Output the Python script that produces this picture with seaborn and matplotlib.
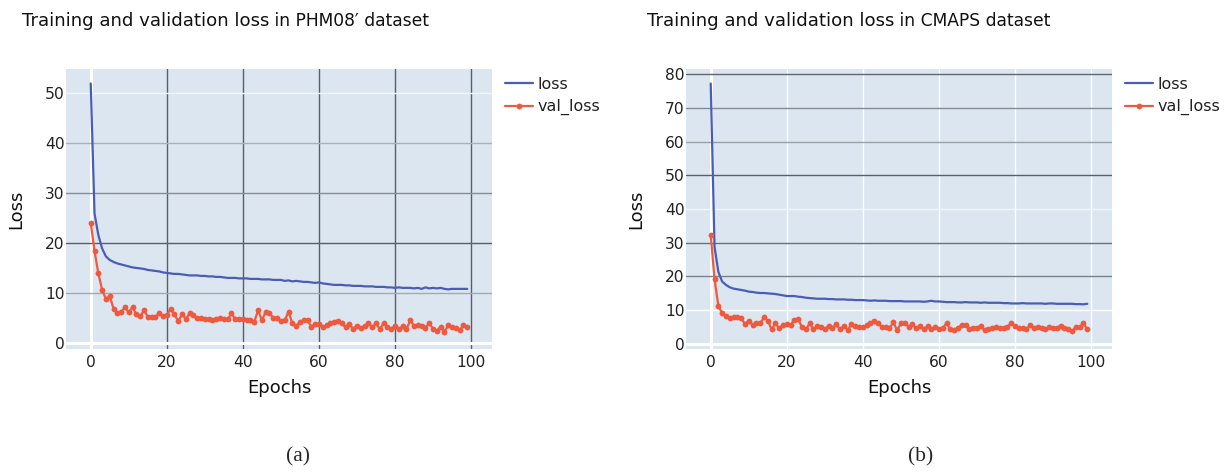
import numpy as np
import pandas as pd
import matplotlib
matplotlib.use("Agg")
import matplotlib.pyplot as plt
import seaborn as sns

epochs = list(range(100))

phm_loss = [52.0, 25.9, 21.6, 18.9, 17.3, 16.6, 16.2, 15.9, 15.7, 15.5,
            15.3, 15.1, 15.0, 14.9, 14.8, 14.6, 14.5, 14.4, 14.3, 14.1,
            14.0, 13.9, 13.8, 13.8, 13.7, 13.6, 13.5, 13.5, 13.5, 13.4,
            13.4, 13.3, 13.3, 13.2, 13.2, 13.1, 13.0, 13.0, 13.0, 12.9,
            12.9, 12.9, 12.8, 12.8, 12.8, 12.7, 12.7, 12.7, 12.6, 12.6,
            12.6, 12.4, 12.5, 12.3, 12.4, 12.3, 12.2, 12.2, 12.1, 12.0,
            12.1, 11.9, 11.8, 11.7, 11.6, 11.6, 11.6, 11.5, 11.5, 11.4,
            11.4, 11.4, 11.3, 11.3, 11.3, 11.2, 11.2, 11.2, 11.1, 11.1,
            11.0, 11.1, 11.0, 11.0, 11.0, 10.9, 11.0, 10.8, 11.1, 10.9,
            11.0, 10.9, 11.0, 10.8, 10.7, 10.8, 10.8, 10.8, 10.8, 10.8]

phm_val = [24.1, 18.4, 13.9, 10.6, 8.75, 9.4, 6.8, 5.9, 6.2, 7.1,
           6.1, 7.1, 5.7, 5.3, 6.5, 5.2, 5.2, 5.2, 5.9, 5.3,
           5.5, 6.8, 5.7, 4.3, 5.7, 4.8, 5.9, 5.5, 4.9, 4.9,
           4.8, 4.7, 4.5, 4.8, 4.9, 4.7, 4.7, 5.9, 4.7, 4.7,
           4.7, 4.5, 4.5, 4.2, 6.5, 4.5, 6.2, 6.0, 4.9, 4.9,
           4.4, 4.5, 6.2, 3.9, 3.3, 4.2, 4.5, 4.5, 3.2, 3.7,
           3.7, 3.1, 3.5, 4.0, 4.1, 4.3, 3.9, 3.1, 3.7, 2.8,
           3.4, 2.9, 3.4, 3.9, 3.1, 3.9, 2.7, 3.9, 3.2, 2.8,
           3.3, 2.7, 3.3, 2.7, 4.5, 3.4, 3.5, 3.3, 3.0, 3.9,
           2.8, 2.4, 3.2, 2.2, 3.5, 3.1, 3.0, 2.5, 3.5, 3.2]

cmaps_loss = [77.2, 28.8, 21.4, 18.5, 17.5, 16.8, 16.4, 16.2, 16.0, 15.8,
              15.5, 15.4, 15.2, 15.1, 15.1, 15.0, 14.9, 14.8, 14.6, 14.4,
              14.2, 14.2, 14.2, 14.0, 13.9, 13.7, 13.6, 13.5, 13.4, 13.4,
              13.4, 13.3, 13.3, 13.2, 13.2, 13.2, 13.1, 13.1, 13.0, 13.0,
              13.0, 12.9, 12.8, 12.9, 12.8, 12.8, 12.8, 12.7, 12.7, 12.7,
              12.7, 12.6, 12.6, 12.6, 12.6, 12.6, 12.5, 12.6, 12.8, 12.6,
              12.6, 12.5, 12.4, 12.4, 12.4, 12.3, 12.3, 12.4, 12.3, 12.3,
              12.3, 12.2, 12.3, 12.2, 12.2, 12.2, 12.2, 12.1, 12.1, 12.0,
              12.0, 12.0, 12.1, 12.0, 12.0, 12.0, 12.0, 12.0, 11.9, 12.0,
              12.0, 11.9, 11.9, 11.9, 11.9, 11.9, 11.8, 11.8, 11.75, 11.9]

cmaps_val = [32.3, 19.2, 11.3, 9.1, 8.3, 7.6, 8.1, 7.9, 7.6, 5.9,
             6.9, 5.6, 6.1, 6.1, 7.9, 6.9, 4.3, 6.1, 4.6, 5.6,
             5.9, 5.6, 7.1, 7.4, 4.9, 4.3, 6.1, 4.3, 5.4, 4.9,
             4.3, 5.4, 4.8, 5.8, 4.3, 5.4, 4.1, 5.9, 5.3, 5.1,
             4.9, 5.6, 6.1, 6.9, 6.3, 4.9, 4.9, 4.6, 6.4, 4.1,
             6.1, 6.3, 5.1, 5.8, 4.6, 5.4, 4.3, 5.3, 4.3, 5.1,
             4.3, 4.8, 6.1, 4.3, 4.1, 4.8, 5.6, 5.6, 4.3, 4.8,
             4.8, 5.4, 4.0, 4.3, 4.6, 4.9, 4.6, 4.8, 4.9, 6.3,
             5.4, 4.8, 4.6, 4.3, 5.6, 4.6, 5.1, 4.6, 4.3, 5.1,
             4.8, 4.8, 5.4, 4.8, 4.4, 3.7, 5.1, 5.1, 6.1, 4.4]

titles_big = ["Training and validation loss", "Training and validation loss"]
titles_small = [" in PHM08\u2032 dataset", " in CMAPS dataset"]
sub_labels = ["(a)", "(b)"]
x_ticks = [0, 20, 40, 60, 80, 100]
y_ticks_a = [0, 10, 20, 30, 40, 50]
y_ticks_b = [0, 10, 20, 30, 40, 50, 60, 70, 80]

sns.set_style("white")
plt.rcParams['font.family'] = ['DejaVu Sans']

BLUE = "#4A5DB6"
RED = "#EF5A3F"
BG = "#DCE6F1"

W, H = 1226, 474
fig = plt.figure(figsize=(W / 100, H / 100), dpi=100)

def fx(px):
    return px / W

def fy(py):
    return 1 - py / H

ax_a = fig.add_axes([fx(66), fy(349), fx(492 - 66), (349 - 69) / H])
ax_b = fig.add_axes([fx(686), fy(349), fx(1112 - 686), (349 - 69) / H])

datasets = [
    (ax_a, phm_loss, phm_val, y_ticks_a, (-1.26, 54.9),
     {0: ("white", 2.2), 10: ("#a3a9b2", 1), 20: ("#5a5e66", 1), 30: ("#878c95", 1), 40: ("#a9b0ba", 1), 50: ("#f3f5f8", 1)},
     {0: ("white", 2.2), 20: ("#5a5e66", 1), 40: ("#5a5e66", 1), 60: ("#5a5e66", 1), 80: ("#5a5e66", 1), 100: ("#5a5e66", 1)}),
    (ax_b, cmaps_loss, cmaps_val, y_ticks_b, (-1.5, 81.5),
     {0: ("white", 2.2), 10: ("white", 1), 20: ("#7c818a", 1), 30: ("#6a6f78", 1), 40: ("#f3f5f8", 1), 50: ("#5a5e66", 1), 60: ("#9aa0a8", 1), 70: ("#858a93", 1), 80: ("#62666e", 1)},
     {0: ("white", 2.2), 20: ("white", 1), 40: ("white", 1), 60: ("white", 1), 80: ("white", 1), 100: ("white", 1)}),
]

for i, (ax, loss, val, yt, ylim, hcol, vcol) in enumerate(datasets):
    df = pd.DataFrame({"epoch": epochs, "loss": loss, "val_loss": val})
    ax.set_facecolor(BG)
    sns.lineplot(data=df, x="epoch", y="loss", ax=ax, color=BLUE, lw=1.6, label="loss", zorder=3)
    sns.lineplot(data=df, x="epoch", y="val_loss", ax=ax, color=RED, lw=1.6, marker="o",
                 markersize=4.2, markeredgewidth=0, label="val_loss", zorder=4)
    ax.set_xlim(-6.5, 105.5)
    ax.set_ylim(*ylim)
    ax.set_xticks(x_ticks)
    ax.set_yticks(yt)
    ax.grid(True, zorder=0)
    ax.set_axisbelow(True)
    for tv, gl in zip(ax.get_yticks(), ax.get_ygridlines()):
        c, lw = hcol.get(int(round(tv)), ("white", 1))
        gl.set_color(c)
        gl.set_linewidth(lw)
    for tv, gl in zip(ax.get_xticks(), ax.get_xgridlines()):
        c, lw = vcol.get(int(round(tv)), ("white", 1))
        gl.set_color(c)
        gl.set_linewidth(lw)
    for s in ax.spines.values():
        s.set_visible(False)
    ax.tick_params(axis="both", length=0, labelsize=11.2, labelcolor="#222222")
    ax.tick_params(axis="x", pad=4)
    ax.tick_params(axis="y", pad=1)
    ax.set_xlabel("Epochs", fontsize=13, color="#111111", labelpad=7)
    ax.set_ylabel("Loss", fontsize=13, color="#111111", labelpad=14)
    leg = ax.legend(loc="upper left", bbox_to_anchor=(1.03, 1 - (77 - 69) / 280),
                    frameon=False, fontsize=11.5, handlelength=1.75, handletextpad=0.3,
                    labelspacing=0.45, borderpad=0, borderaxespad=0)
    for t in leg.get_texts():
        t.set_color("#222222")

# titles
title_x = [22, 647]
big_texts = []
for i in range(2):
    t = fig.text(fx(title_x[i]), fy(25.5), titles_big[i], fontsize=13.1, va="baseline", ha="left", color="#111111")
    big_texts.append(t)

fig.canvas.draw()
renderer = fig.canvas.get_renderer()
for i, t in enumerate(big_texts):
    bb = t.get_window_extent(renderer)
    x_end = bb.x1 / fig.bbox.width
    fig.text(x_end, fy(25.5), titles_small[i], fontsize=12.3, va="baseline", ha="left", color="#111111")

# sub-figure labels
fig.text(fx(298), fy(457), sub_labels[0], fontsize=15.5, family="Liberation Serif", ha="center", va="center")
fig.text(fx(921), fy(457), sub_labels[1], fontsize=15.5, family="Liberation Serif", ha="center", va="center")

fig.savefig("out.png", dpi=100)
